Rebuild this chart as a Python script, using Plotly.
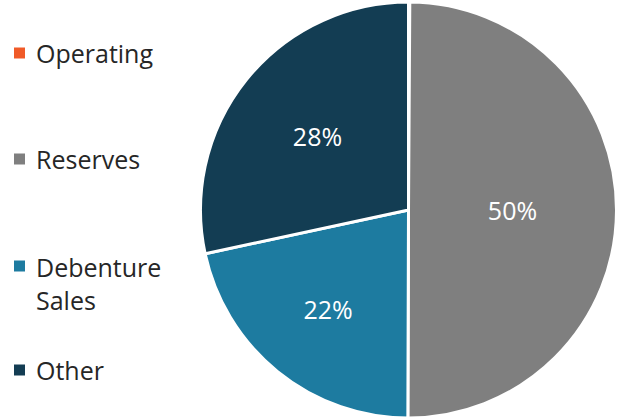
import plotly.graph_objects as go

labels = ["Operating", "Reserves", "Debenture<br>Sales", "Other"]
values = [0.1, 50, 21.6, 28.4]
pct_text = ["", "50%", "22%", "28%"]
colors = ["#F05A28", "#7F7F7F", "#1D7BA0", "#133D53"]
legend_y = [53, 159, 266, 370]  # pixel rows of legend entries (first line)

W, H = 621, 418
FONT = "Open Sans"

fig = go.Figure()
fig.add_trace(go.Pie(
    labels=labels, values=values, sort=False, direction="clockwise", rotation=0,
    marker=dict(colors=colors, line=dict(color="white", width=3)),
    text=pct_text, textinfo="text", textposition="inside",
    insidetextorientation="horizontal",
    textfont=dict(color="white", size=25, family=FONT),
    domain=dict(x=[200 / W, 617 / W], y=[0 / H, 416 / H]),
    showlegend=False, hoverinfo="label+percent",
))

for lab, col, py in zip(labels, colors, legend_y):
    nlines = lab.count("<br>") + 1
    fig.add_shape(type="rect", xref="paper", yref="paper",
                  x0=14 / W, x1=25 / W, y0=1 - (py + 5.5) / H, y1=1 - (py - 5.5) / H,
                  fillcolor=col, line=dict(width=0))
    fig.add_annotation(xref="paper", yref="paper", x=34 / W,
                       y=1 - (py + (nlines - 1) * 17) / H,
                       xanchor="left", yanchor="middle", text=lab, showarrow=False, align="left",
                       font=dict(size=25, color="#262626", family=FONT))

fig.update_layout(width=W, height=H, margin=dict(l=0, r=0, t=0, b=0),
                  paper_bgcolor="white", plot_bgcolor="white")
fig.write_html("out.html")
